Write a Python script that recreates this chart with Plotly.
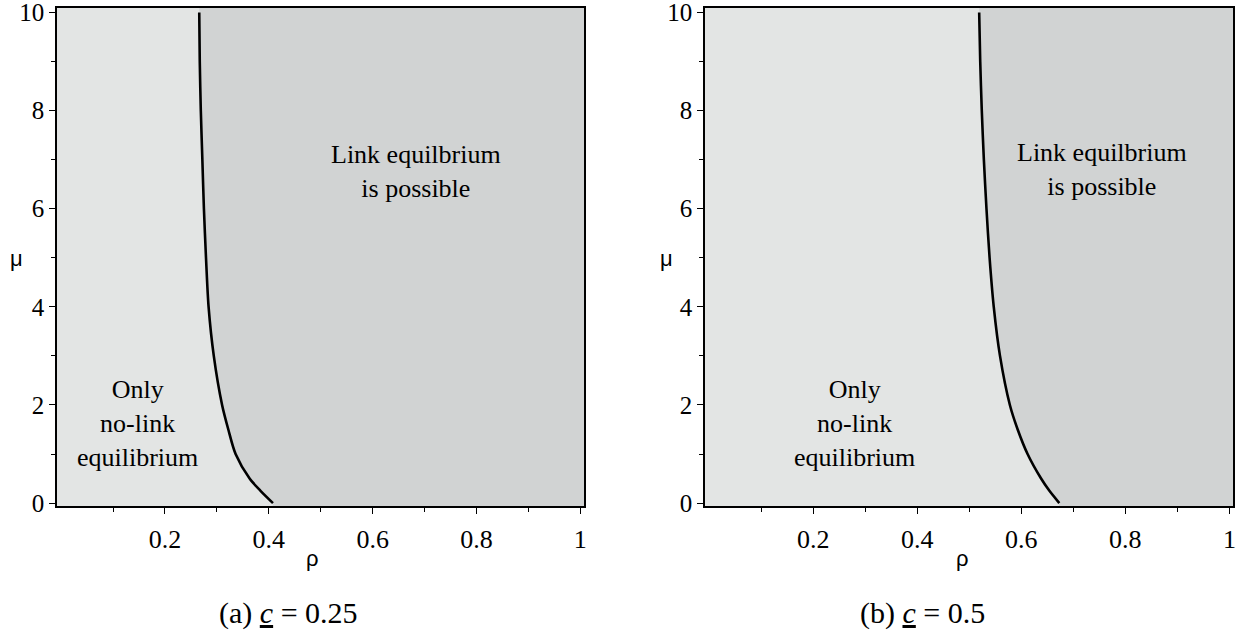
import plotly.graph_objects as go

# Boundary curves: rho threshold as a function of mu for two cost levels
mu_vals = [10, 9, 8, 7, 6, 5, 4, 3, 2, 1.5, 1, 0.5, 0.25, 0]
rho_c025 = [0.266, 0.267, 0.269, 0.272, 0.275, 0.279, 0.284, 0.294, 0.310,
            0.322, 0.336, 0.363, 0.384, 0.408]
rho_c050 = [0.519, 0.521, 0.524, 0.528, 0.533, 0.539, 0.547, 0.559, 0.578,
            0.593, 0.612, 0.638, 0.654, 0.673]

x_ticks = [0.2, 0.4, 0.6, 0.8, 1]
x_tick_text = ["0.2", "0.4", "0.6", "0.8", "1"]
x_minor = [0.1, 0.3, 0.5, 0.7, 0.9]

captions = ["(a) <u><i>c</i></u> = 0.25", "(b) <u><i>c</i></u> = 0.5"]

X_RANGE = [-0.008, 1.007]
Y_RANGE = [-0.06, 10.09]
LIGHT = "rgb(227,229,228)"
DARK = "rgb(209,211,211)"
SERIF = "Liberation Serif, Times New Roman, serif"

fig = go.Figure()

panels = [
    (rho_c025, "x", "y"),
    (rho_c050, "x2", "y2"),
]
for rho, xa, ya in panels:
    # shaded region to the right of the boundary
    px = [rho[0]] + rho + [rho[-1], X_RANGE[1], X_RANGE[1]]
    py = [Y_RANGE[1]] + mu_vals + [Y_RANGE[0], Y_RANGE[0], Y_RANGE[1]]
    fig.add_trace(go.Scatter(x=px, y=py, fill="toself", fillcolor=DARK,
                             mode="lines", line=dict(width=0, shape="spline"),
                             hoverinfo="skip", showlegend=False,
                             xaxis=xa, yaxis=ya))
    fig.add_trace(go.Scatter(x=rho, y=mu_vals, mode="lines",
                             line=dict(color="black", width=2.6,
                                       shape="spline", smoothing=0.8),
                             showlegend=False, xaxis=xa, yaxis=ya))

axis_common = dict(
    showline=True, mirror=True, linecolor="black", linewidth=1.6,
    ticks="outside", ticklen=6, tickwidth=1.4, tickcolor="black",
    showgrid=False, zeroline=False, ticklabeloverflow="allow",
    automargin=False,
)
x_common = dict(axis_common, range=X_RANGE, tickmode="array",
                tickvals=x_ticks, ticktext=x_tick_text, ticklabelstandoff=3,
                tickfont=dict(family=SERIF, size=26, color="black"),
                minor=dict(tickmode="array", tickvals=x_minor, ticks="outside",
                           ticklen=4, tickwidth=1.2, tickcolor="black"))
y_common = dict(axis_common, range=Y_RANGE, tickmode="linear",
                tick0=0, dtick=2,
                tickfont=dict(family=SERIF, size=25, color="black"),
                minor=dict(tickmode="linear", tick0=0, dtick=1,
                           ticks="outside", ticklen=4, tickwidth=1.2,
                           tickcolor="black"))

fig.update_layout(
    width=1247, height=630,
    margin=dict(l=0, r=0, t=0, b=0, autoexpand=False),
    paper_bgcolor="white", plot_bgcolor=LIGHT,
    xaxis=dict(x_common, domain=[0.0457, 0.4683], anchor="y"),
    yaxis=dict(y_common, domain=[0.1968, 0.9872], anchor="x"),
    xaxis2=dict(x_common, domain=[0.5654, 0.9888], anchor="y2"),
    yaxis2=dict(y_common, domain=[0.1968, 0.9872], anchor="x2"),
)

ann_font = dict(family=SERIF, size=26, color="black")
region_labels = [
    ("x", "y", 0.148, 1.62, "Only<br>no-link<br>equilibrium"),
    ("x", "y", 0.683, 6.75, "Link equilbrium<br>is possible"),
    ("x2", "y2", 0.279, 1.62, "Only<br>no-link<br>equilibrium"),
    ("x2", "y2", 0.756, 6.79, "Link equilbrium<br>is possible"),
]
for xa, ya, ax, ay, txt in region_labels:
    fig.add_annotation(xref=xa, yref=ya, x=ax, y=ay, text=txt,
                       showarrow=False, font=ann_font, align="center")

sym_font = dict(family="Liberation Sans, Arial, sans-serif", size=22,
                color="black")
for px_, py_, txt in [(312, 558, "ρ"), (962, 558, "ρ"),
                      (16, 258, "μ"), (666, 258, "μ")]:
    fig.add_annotation(xref="paper", yref="paper", x=px_ / 1247,
                       y=1 - py_ / 630, text=txt, showarrow=False,
                       font=sym_font, xanchor="center", yanchor="middle")

for cx, txt in zip([288, 923], captions):
    fig.add_annotation(xref="paper", yref="paper", x=cx / 1247,
                       y=1 - 613 / 630, text=txt, showarrow=False,
                       font=dict(family=SERIF, size=30, color="black"),
                       xanchor="center", yanchor="middle")

fig.write_html("out.html")
